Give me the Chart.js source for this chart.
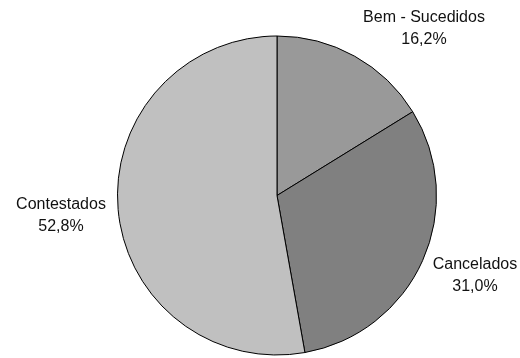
<!DOCTYPE html>
<html lang="pt">
<head>
<meta charset="UTF-8">
<title>Resultado dos pedidos</title>
<script src="https://cdn.jsdelivr.net/npm/chart.js"></script>
<style>
  body { margin: 0; background: #fff; }
  canvas { display: block; }
</style>
</head>
<body>
<canvas id="pie" width="520" height="358"></canvas>
<script>
  // Slices, clockwise from 12 o'clock
  const categories = ['Bem - Sucedidos', 'Cancelados', 'Contestados'];
  const shares = [16.2, 31.0, 52.8];
  const sliceColors = ['#999999', '#808080', '#c0c0c0'];

  // where each label sits (centre of the two text lines)
  const labelPos = [
    { x: 424, y: 29 },
    { x: 475, y: 276 },
    { x: 61, y: 216 }
  ];

  const pieLabels = {
    id: 'pieLabels',
    afterDraw(chart) {
      const ctx = chart.ctx;
      ctx.save();
      ctx.font = '16px "Liberation Sans", Arial, sans-serif';
      ctx.fillStyle = '#111';
      ctx.textAlign = 'center';
      ctx.textBaseline = 'middle';
      chart.data.labels.forEach((name, i) => {
        const p = labelPos[i];
        const pct = chart.data.datasets[0].data[i].toFixed(1).replace('.', ',') + '%';
        ctx.fillText(name, p.x, p.y - 11);
        ctx.fillText(pct, p.x, p.y + 11);
      });
      ctx.restore();
    }
  };

  new Chart(document.getElementById('pie'), {
    type: 'pie',
    data: {
      labels: categories,
      datasets: [{
        data: shares,
        backgroundColor: sliceColors,
        borderColor: '#000',
        borderWidth: 1
      }]
    },
    options: {
      responsive: false,
      animation: false,
      layout: { padding: { top: 35, bottom: 2, left: 117, right: 83 } },
      plugins: {
        legend: { display: false },
        tooltip: { enabled: false }
      }
    },
    plugins: [pieLabels]
  });
</script>
</body>
</html>
